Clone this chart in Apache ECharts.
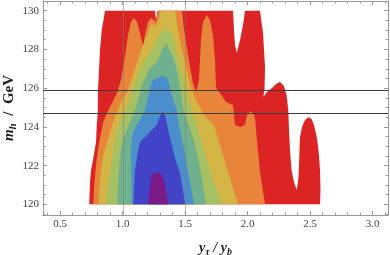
<!DOCTYPE html>
<html><head><meta charset="utf-8">
<script src="https://cdn.jsdelivr.net/npm/echarts@6/dist/echarts.min.js"></script>
<style>html,body{margin:0;padding:0;background:#fff}#c{width:390px;height:255px}</style>
</head><body><div id="c"></div>
<script>
// axis ranges and ticks
const xRange = [0.364, 3.124];
const yRange = [119.45, 130.5];
const xTickLabels = [0.5, 1.0, 1.5, 2.0, 2.5, 3.0];
const yTickLabels = [120, 122, 124, 126, 128, 130];
const gridLinesX = [1.0, 1.5];
const massBandLines = [124.7, 125.9];

// contour regions [y_tau/y_b, m_h] (outermost first)
const redRegion = [[0.734,120],[0.74,121.15],[0.748,121.78],[0.764,122.29],[0.788,123.22],[0.794,124.1],[0.802,124.72],[0.804,125.9],[0.812,126.94],[0.82,127.97],[0.834,129.0],[0.86,130],[1.26,130],[1.268,129.52],[1.28,130],[1.884,130],[1.892,129.0],[1.90,128.23],[1.914,127.81],[1.94,128.49],[1.964,129.26],[1.98,130],[2.10,130],[2.124,128.85],[2.14,127.09],[2.136,125.9],[2.126,125.54],[2.156,125.8],[2.196,126.01],[2.228,126.22],[2.26,126.32],[2.292,126.11],[2.312,125.65],[2.326,124.87],[2.332,123.84],[2.34,122.81],[2.352,121.78],[2.372,121.15],[2.394,120.74],[2.406,121.26],[2.412,122.03],[2.416,122.81],[2.42,123.48],[2.436,123.99],[2.46,124.36],[2.486,124.5],[2.512,124.41],[2.532,124.1],[2.554,123.48],[2.568,122.81],[2.58,121.78],[2.584,120.74],[2.58,120]];
const orangeRegion = [[0.766,120],[0.776,121.15],[0.794,122.39],[0.82,123.43],[0.846,124.25],[0.876,124.72],[0.916,125.23],[0.956,125.75],[0.988,126.42],[1.02,127.61],[1.044,128.74],[1.068,129.42],[1.092,129.62],[1.116,129.42],[1.14,128.85],[1.164,128.17],[1.18,128.74],[1.204,129.42],[1.228,129.62],[1.252,129.52],[1.268,129.42],[1.284,130],[1.476,130],[1.492,129.0],[1.524,127.71],[1.54,127.09],[1.564,126.27],[1.588,125.8],[1.612,126.42],[1.62,127.45],[1.628,128.49],[1.644,129.42],[1.674,129.78],[1.70,129.52],[1.724,128.74],[1.74,127.45],[1.748,126.01],[1.772,125.8],[1.796,125.6],[1.828,125.28],[1.884,125.13],[1.90,124.1],[1.94,123.99],[1.98,124.1],[1.996,124.61],[2.02,124.79],[2.044,124.72],[2.06,124.46],[2.074,123.43],[2.10,121.67],[2.14,120]];
const yellowRegion = [[0.808,120],[0.82,121.36],[0.846,122.55],[0.886,123.43],[0.926,124.25],[0.98,125.13],[1.044,125.9],[1.084,126.68],[1.124,127.45],[1.164,128.23],[1.204,128.85],[1.232,129.36],[1.26,129.16],[1.284,129.42],[1.308,130],[1.42,130],[1.444,129.0],[1.476,127.97],[1.508,127.2],[1.54,126.16],[1.588,125.39],[1.652,124.61],[1.732,124.1],[1.78,123.06],[1.828,122.03],[1.876,121.0],[1.924,120]];
const lightGreenRegion = [[0.868,120],[0.90,121.67],[0.926,122.91],[0.954,123.74],[0.994,124.46],[1.044,125.13],[1.086,126.06],[1.14,126.94],[1.194,127.61],[1.246,128.12],[1.286,128.64],[1.34,129.11],[1.394,128.85],[1.446,127.45],[1.486,126.42],[1.526,125.39],[1.594,124.1],[1.634,123.22],[1.674,122.29],[1.724,121.26],[1.796,120]];
const tealRegion = [[0.96,120],[0.966,121.15],[0.98,122.55],[1.006,123.43],[1.06,124.25],[1.10,124.87],[1.126,125.39],[1.156,126.16],[1.194,126.68],[1.22,127.04],[1.274,127.35],[1.324,128.07],[1.354,128.32],[1.366,128.07],[1.406,127.61],[1.434,126.94],[1.46,126.06],[1.486,124.87],[1.532,124.1],[1.58,123.06],[1.62,121.88],[1.668,120]];
const lightBlueRegion = [[1.076,120],[1.072,121.52],[1.068,122.81],[1.076,123.53],[1.108,124.05],[1.148,124.46],[1.18,124.87],[1.20,125.39],[1.22,126.06],[1.244,126.42],[1.316,126.63],[1.354,126.57],[1.38,126.06],[1.404,125.39],[1.434,124.87],[1.446,124.25],[1.474,123.43],[1.50,122.55],[1.54,121.15],[1.572,120]];
const blueRegion = [[1.086,120],[1.10,121.78],[1.126,122.81],[1.14,123.22],[1.18,123.48],[1.22,123.74],[1.274,124.1],[1.316,124.78],[1.34,124.61],[1.366,123.84],[1.394,123.06],[1.42,122.39],[1.46,121.62],[1.486,120.64],[1.50,120]];
const purpleRegion = [[1.206,120],[1.216,120.74],[1.228,121.36],[1.24,121.57],[1.268,121.64],[1.30,121.6],[1.316,121.46],[1.332,121.26],[1.348,120.74],[1.366,120]];

const regions = [redRegion, orangeRegion, yellowRegion, lightGreenRegion, tealRegion, lightBlueRegion, blueRegion, purpleRegion];
const regionColors = ['#dd2424', '#e8853a', '#d3b545', '#a6c163', '#6fb08e', '#4a8ecd', '#4343c8', '#7a1b88'];

const axisColor = '#9a9a9a';
const labelFont = 'Liberation Serif';

function minorValues(lo, hi, step) {
  const out = [];
  const start = Math.ceil(lo / step - 1e-9);
  for (let k = start; k * step <= hi + 1e-9; k++) out.push(+(k * step).toFixed(4));
  return out;
}
const xMinor = minorValues(xRange[0], xRange[1], 0.1);
const yMinor = minorValues(yRange[0], yRange[1], 0.5);

function makeAxis(kind, pos, values, len, showLabel, extra) {
  const rng = kind === 'x' ? xRange : yRange;
  const ax = {
    type: 'value', min: rng[0], max: rng[1], position: pos,
    axisLine: { show: true, onZero: false, lineStyle: { color: axisColor, width: 1 } },
    axisTick: { show: true, inside: true, length: len, customValues: values, lineStyle: { color: axisColor, width: 1 } },
    axisLabel: { show: showLabel, customValues: values, fontFamily: labelFont, fontSize: 11, color: '#444', margin: 4,
      formatter: kind === 'x' ? (v => Number(v).toFixed(1)) : (v => String(Math.round(v))) },
    splitLine: { show: false }
  };
  return Object.assign(ax, extra || {});
}

const chart = echarts.init(document.getElementById('c'), null, { renderer: 'canvas' });

const series = regions.map((poly, i) => ({
  type: 'custom', xAxisIndex: 0, yAxisIndex: 0, clip: true, silent: true,
  data: [poly[0]],
  renderItem: (params, api) => ({
    type: 'polygon',
    shape: { points: poly.map(p => api.coord(p)) },
    style: { fill: regionColors[i] }
  })
}));

series.push({
  type: 'custom', xAxisIndex: 0, yAxisIndex: 0, silent: true,
  data: gridLinesX.map(v => [v, yRange[0]]),
  renderItem: (params, api) => {
    const b = api.coord([api.value(0), yRange[0]]);
    const t = api.coord([api.value(0), yRange[1]]);
    const x = Math.round(b[0]) + 0.5;
    return { type: 'line', shape: { x1: x, y1: t[1], x2: x, y2: b[1] }, style: { stroke: 'rgba(120,120,120,0.5)', lineWidth: 1 } };
  }
});
series.push({
  type: 'custom', xAxisIndex: 0, yAxisIndex: 0, silent: true,
  data: massBandLines.map(v => [xRange[0], v]),
  renderItem: (params, api) => {
    const l = api.coord([xRange[0], api.value(1)]);
    const r = api.coord([xRange[1], api.value(1)]);
    const y = Math.round(l[1]) + 0.5;
    return { type: 'line', shape: { x1: l[0], y1: y, x2: r[0], y2: y }, style: { stroke: '#3c3c3c', lineWidth: 1 } };
  }
});

function titleRich(size) {
  return {
    i: { fontFamily: labelFont, fontStyle: 'italic', fontWeight: 'bold', fontSize: size, lineHeight: size + 4, verticalAlign: 'middle', color: '#222' },
    s: { fontFamily: labelFont, fontStyle: 'italic', fontWeight: 'bold', fontSize: size - 4, lineHeight: size - 4, verticalAlign: 'bottom', color: '#222' },
    b: { fontFamily: labelFont, fontWeight: 'bold', fontSize: size, lineHeight: size + 4, verticalAlign: 'middle', color: '#222' }
  };
}

chart.setOption({
  animation: false,
  backgroundColor: '#fff',
  grid: { left: 43, right: 2, top: 1, bottom: 40, containLabel: false, outerBoundsMode: 'none' },
  xAxis: [
    makeAxis('x', 'bottom', xTickLabels, 4, true, {
      name: '{i|y}{s|τ}{i| / y}{s|b}', nameLocation: 'middle', nameGap: 24, nameMoveOverlap: false,
      nameTextStyle: { rich: titleRich(14) }
    }),
    makeAxis('x', 'bottom', xMinor, 2.5, false),
    makeAxis('x', 'top', xTickLabels, 4, false),
    makeAxis('x', 'top', xMinor, 2.5, false)
  ],
  yAxis: [
    makeAxis('y', 'left', yTickLabels, 4, true, {
      name: '{i|m}{s|h}{b|  /  GeV}', nameLocation: 'middle', nameGap: 24, nameRotate: 90, nameMoveOverlap: false,
      nameTextStyle: { rich: titleRich(15), padding: [0, 0, 0, 0] }
    }),
    makeAxis('y', 'left', yMinor, 2.5, false),
    makeAxis('y', 'right', yTickLabels, 4, false),
    makeAxis('y', 'right', yMinor, 2.5, false)
  ],
  series: series
});
</script>
</body></html>
